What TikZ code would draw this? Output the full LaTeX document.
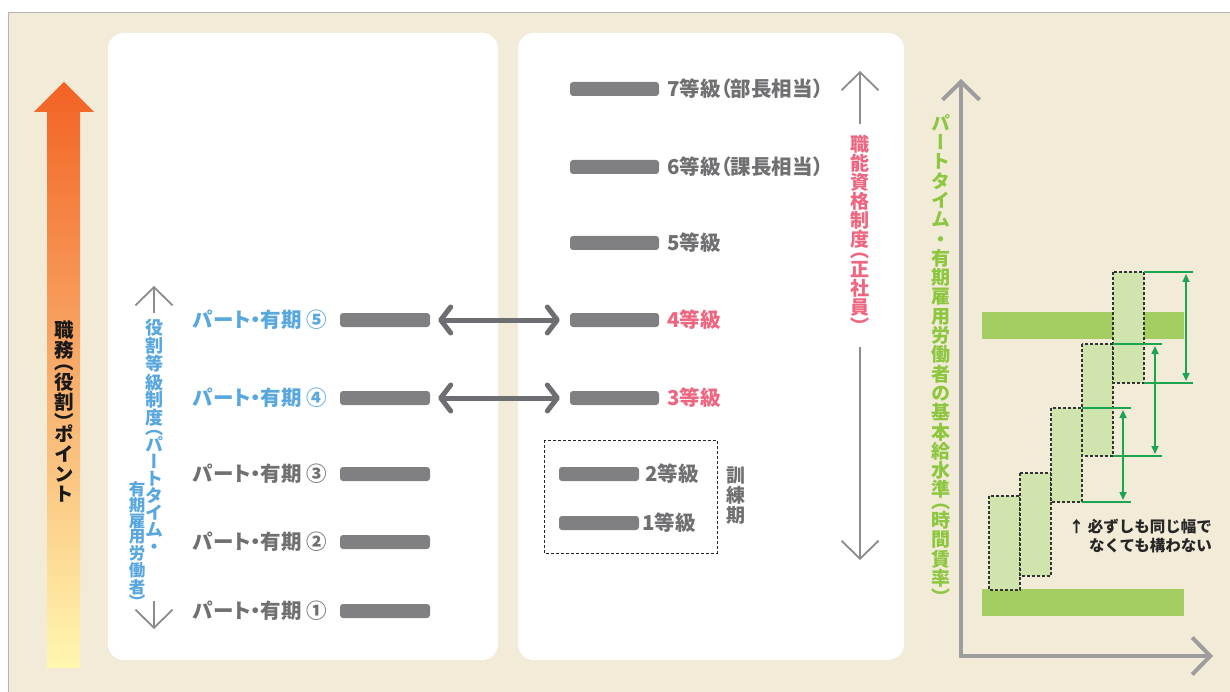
\documentclass[tikz,border=0pt]{standalone}
\usepackage{fontspec}
\setmainfont{Noto Sans CJK JP}
\newfontfamily\vjp{Noto Sans CJK JP}[RawFeature=+vert]
\newfontfamily\pjp{Noto Sans CJK JP}[RawFeature=+palt]
\usetikzlibrary{arrows.meta}
\definecolor{bg}{RGB}{242,235,216}
\definecolor{bordergray}{RGB}{180,180,183}
\definecolor{bargray}{RGB}{128,128,131}
\definecolor{txtgray}{RGB}{112,112,115}
\definecolor{jblue}{RGB}{88,167,222}
\definecolor{jpink}{RGB}{238,102,128}
\definecolor{jgreen}{RGB}{141,198,63}
\definecolor{gbar}{RGB}{165,206,98}
\definecolor{lgreen}{RGB}{208,228,174}
\definecolor{dgreen}{RGB}{26,166,80}
\definecolor{axisgray}{RGB}{157,157,160}
\definecolor{thingray}{RGB}{140,140,143}
\definecolor{dblgray}{RGB}{109,110,113}
\definecolor{ortop}{RGB}{242,98,36}
\definecolor{ormid}{RGB}{248,160,85}
\definecolor{orbot}{RGB}{255,247,176}
\begin{document}
\begin{tikzpicture}[x=1pt,y=-1pt,
  vtext/.style={align=center,inner sep=0pt,anchor=north},
  rowtxt/.style={anchor=west,inner sep=0pt,font=\pjp\bfseries\fontsize{20.5}{21}\selectfont},
  bar/.style={fill=bargray,rounded corners=3pt,minimum height=14pt,inner sep=0pt},
  thinarrow/.style={draw=thingray,line width=1.8pt,-{Straight Barb[length=18pt,width=37pt]}},
  dblarrow/.style={draw=dblgray,line width=5pt,line cap=round,
     {Straight Barb[length=10pt,width=26pt,line cap=round,line join=round]}-{Straight Barb[length=10pt,width=26pt,line cap=round,line join=round]}},
  axisline/.style={draw=axisgray,line width=4pt,
     {Straight Barb[length=18pt,width=37pt]}-{Straight Barb[length=18pt,width=37pt]}},
  dbox/.style={draw=black!80,fill=lgreen,line width=1.2pt,dash pattern=on 3pt off 2pt},
  gline/.style={draw=dgreen,line width=2.5pt},
  garrow/.style={draw=dgreen,line width=1.6pt,{Triangle[length=8pt,width=7pt]}-{Triangle[length=8pt,width=7pt]}}
]
\useasboundingbox (0,0) rectangle (1230,692);
\fill[white] (0,0) rectangle (1230,692);
\fill[bg] (8.5,12.5) rectangle (1230,692);
\draw[bordergray,line width=1.2pt] (8.5,692) -- (8.5,12.5) -- (1230,12.5);

% panels
\fill[white,rounded corners=16pt] (108,33) rectangle (498,660);
\fill[white,rounded corners=16pt] (518,33) rectangle (904,660);

% orange arrow
\shade[top color=ortop,middle color=ormid,bottom color=orbot]
  (47,668) -- (47,112) -- (34,112) -- (64,82) -- (94,112) -- (80,112) -- (80,668) -- cycle;
\node[vtext,font=\vjp\bfseries\fontsize{19.5}{20}\selectfont,text=black!90] (pt) at (64,321)
  {職\\務\\[-8pt]（\\役\\割\\）\\[-8pt]ポ\\イ\\ン\\ト};

% left panel
\coordinate (lu1) at (154,313); \coordinate (lu2) at (154,286);
\draw[thinarrow] (lu1) -- (lu2);
\coordinate (ld1) at (154,601); \coordinate (ld2) at (154,629);
\draw[thinarrow] (ld1) -- (ld2);
\node[vtext,font=\vjp\bfseries\fontsize{18}{17}\selectfont,text=jblue] (yk1) at (154,319)
  {役\\割\\等\\級\\制\\度\\[-7pt]（\\パ\\ー\\ト\\タ\\イ\\ム\\・};
\node[vtext,font=\vjp\bfseries\fontsize{16.5}{15.5}\selectfont,text=jblue] (yk2) at (137,481)
  {有\\期\\雇\\用\\労\\働\\者\\）};

\node[rowtxt,text=jblue] (t5) at (193,320) {パート・有期 ⑤};
\node[rowtxt,text=jblue] (t4) at (193,398) {パート・有期 ④};
\node[rowtxt,text=txtgray] (t3) at (193,474) {パート・有期 ③};
\node[rowtxt,text=txtgray] (t2) at (193,542) {パート・有期 ②};
\node[rowtxt,text=txtgray] (t1) at (193,611) {パート・有期 ①};
\node[bar,minimum width=90pt] (b5) at (385,320) {};
\node[bar,minimum width=90pt] (b4) at (385,398) {};
\node[bar,minimum width=90pt] (b3) at (385,474) {};
\node[bar,minimum width=90pt] (b2) at (385,542) {};
\node[bar,minimum width=90pt] (b1) at (385,611) {};

% right panel
\node[bar,minimum width=89pt] (g7) at (614.5,89) {};
\node[bar,minimum width=89pt] (g6) at (614.5,167) {};
\node[bar,minimum width=89pt] (g5) at (614.5,243) {};
\node[bar,minimum width=89pt] (g4) at (614.5,320) {};
\node[bar,minimum width=89pt] (g3) at (614.5,398) {};
\node[rowtxt,text=txtgray] (s7) at (667,89) {7等級（部長相当）};
\node[rowtxt,text=txtgray] (s6) at (667,167) {6等級（課長相当）};
\node[rowtxt,text=txtgray] (s5) at (667,243) {5等級};
\node[rowtxt,text=jpink] (s4) at (667,320) {4等級};
\node[rowtxt,text=jpink] (s3) at (667,398) {3等級};

\draw[black!85,line width=1pt,dash pattern=on 3pt off 2pt] (544,440) rectangle (717,553);
\node[bar,minimum width=80pt] (g2) at (599,474) {};
\node[bar,minimum width=80pt] (g1) at (599,523) {};
\node[rowtxt,text=txtgray] (s2) at (645,474) {2等級};
\node[rowtxt,text=txtgray] (s1) at (642,523) {1等級};
\node[vtext,font=\vjp\bfseries\fontsize{19}{20}\selectfont,text=txtgray] (kr) at (736,467)
  {訓\\練\\期};

\coordinate (ru1) at (860,124); \coordinate (ru2) at (860,71);
\draw[thinarrow] (ru1) -- (ru2);
\coordinate (rd1) at (860,347); \coordinate (rd2) at (860,560);
\draw[thinarrow] (rd1) -- (rd2);
\node[vtext,font=\vjp\bfseries\fontsize{19}{19}\selectfont,text=jpink] (sk) at (860,135)
  {職\\能\\資\\格\\制\\度\\[-8pt]（\\正\\社\\員\\）};

% double arrows
\draw[dblarrow] ([xshift=8pt]b5.east) -- ([xshift=-10pt]g4.west);
\draw[dblarrow] ([xshift=8pt]b4.east) -- ([xshift=-10pt]g3.west);

% right chart
\coordinate (ytop) at (961,79); \coordinate (orig) at (961,656); \coordinate (xr) at (1213,656);
\draw[axisline] (ytop) -- (orig) -- (xr);
\node[vtext,font=\vjp\bfseries\fontsize{19}{19.3}\selectfont,text=jgreen] (gt) at (941,114)
  {パ\\ー\\ト\\タ\\イ\\ム\\・\\有\\期\\雇\\用\\労\\働\\者\\の\\基\\本\\給\\水\\準\\[-8pt]（\\時\\間\\賃\\率\\）};

\fill[gbar] (982,312) rectangle (1184,339);
\fill[gbar] (982,589) rectangle (1184,616);
\draw[dbox] (989,496) rectangle (1020,590);
\draw[dbox] (1020,473) rectangle (1051,576);
\draw[dbox] (1051,408) rectangle (1082,502);
\draw[dbox] (1082,344) rectangle (1113,456);
\draw[dbox] (1113,272) rectangle (1144,383);

\draw[gline] (1144,272) -- (1193,272);
\draw[gline] (1144,383) -- (1193,383);
\draw[gline] (1113,344) -- (1162,344);
\draw[gline] (1113,456) -- (1162,456);
\draw[gline] (1082,408) -- (1131,408);
\draw[gline] (1082,502) -- (1131,502);
\draw[garrow] (1186,274) -- (1186,381);
\draw[garrow] (1155,346) -- (1155,454);
\draw[garrow] (1123,410) -- (1123,500);

\node[anchor=north east,align=right,inner sep=0pt,text=black!85,
  font=\bfseries\fontsize{15.5}{19}\selectfont] (note) at (1212,519)
  {↑ 必ずしも同じ幅で\\なくても構わない};
\end{tikzpicture}
\end{document}
